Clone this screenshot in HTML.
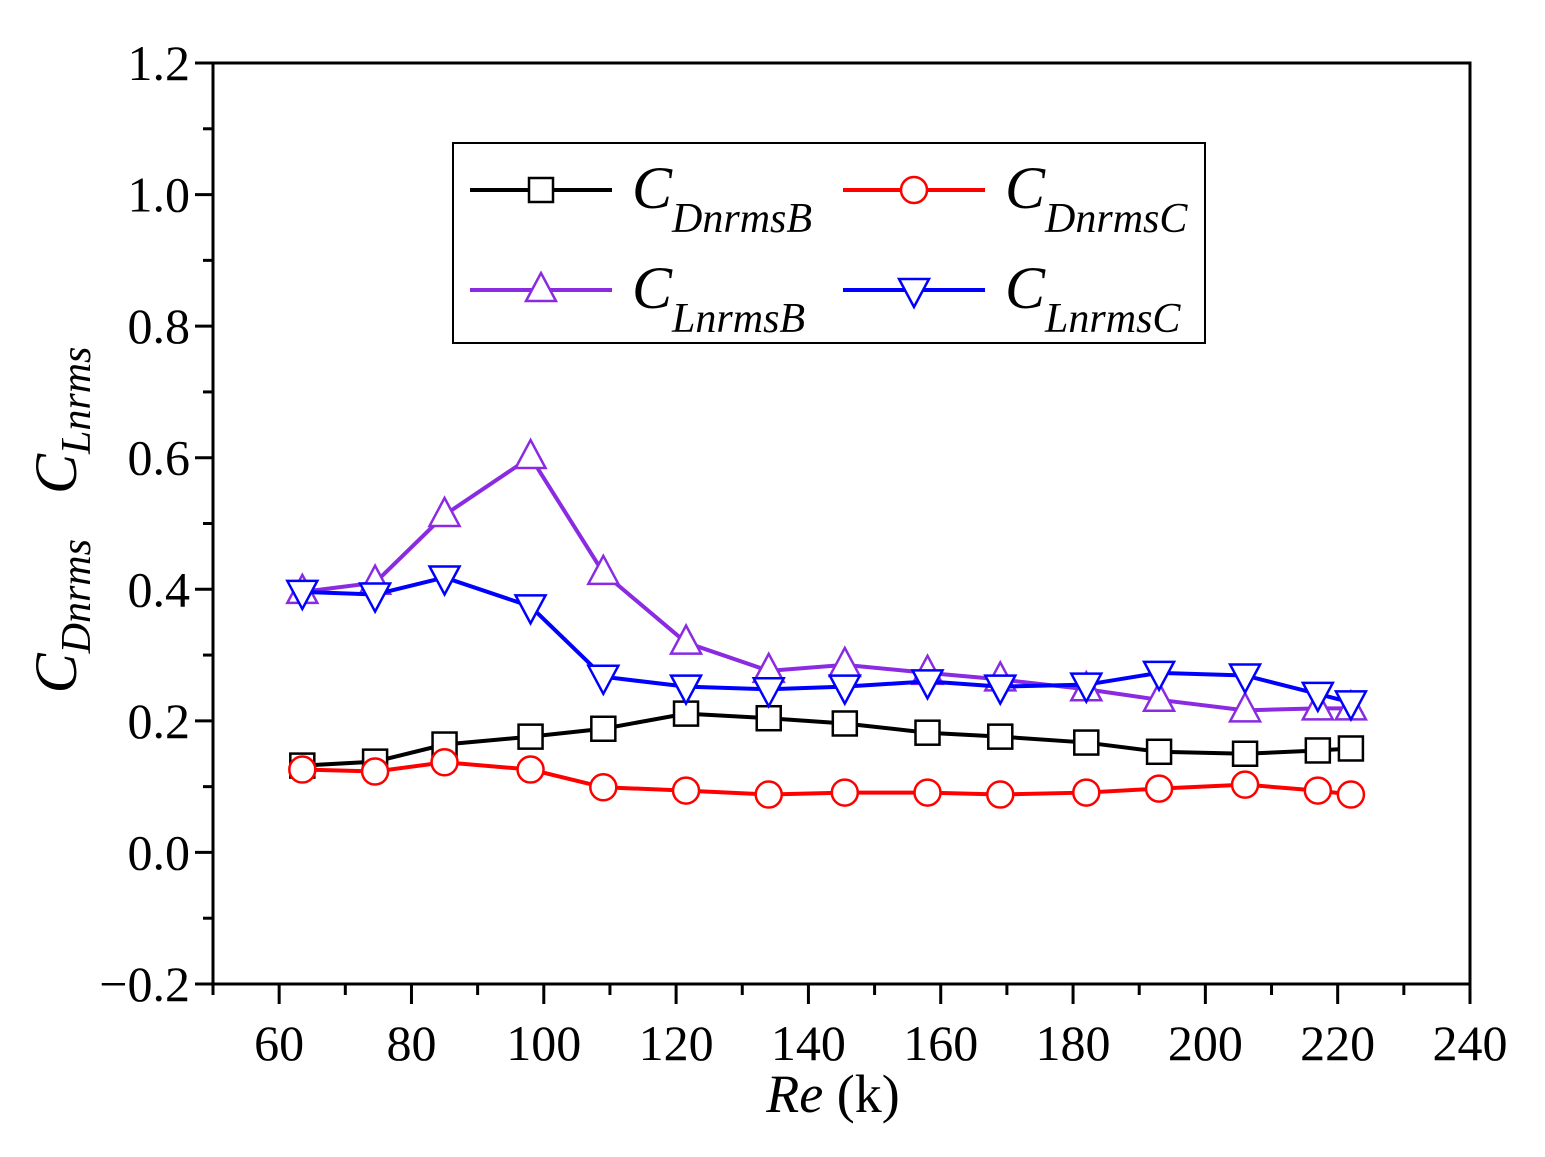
<!DOCTYPE html>
<html><head><meta charset="utf-8"><style>
html,body{margin:0;padding:0;background:#fff}
svg text{font-family:"Liberation Serif","Times New Roman",serif;fill:#000}
</style></head><body>
<svg id="chart" width="1545" height="1152" xmlns="http://www.w3.org/2000/svg" font-family="Liberation Serif, Times New Roman, serif">
<g id="axes"></g>
<g id="series"></g>
<g id="legend"></g>
<text x="833" y="1112" font-size="54" text-anchor="middle" font-family="Liberation Serif, serif"><tspan font-style="italic">Re</tspan> (k)</text>
<g transform="translate(76,520) rotate(-90)">
<text x="0" y="0" font-size="60" text-anchor="middle" font-style="italic" font-family="Liberation Serif, serif">C<tspan font-size="42" dy="14">Dnrms</tspan><tspan dy="-14" font-size="60" xml:space="preserve">   C</tspan><tspan font-size="42" dy="14">Lnrms</tspan></text>
</g>
</svg>
<script>
const reValues=[63.5,74.5,85,98,109,121.5,134,145.5,158,169,182,193,206,217,222];
const cdB=[0.132,0.138,0.164,0.176,0.188,0.211,0.204,0.196,0.182,0.176,0.167,0.153,0.150,0.155,0.158];
const cdC=[0.126,0.123,0.137,0.126,0.099,0.094,0.088,0.091,0.091,0.088,0.091,0.097,0.103,0.094,0.088];
const clB=[0.396,0.41,0.513,0.601,0.425,0.319,0.276,0.285,0.273,0.263,0.248,0.232,0.216,0.219,0.219];
const clC=[0.396,0.392,0.418,0.374,0.267,0.252,0.248,0.252,0.26,0.252,0.255,0.273,0.269,0.241,0.228];
const xTicks=[60,80,100,120,140,160,180,200,220,240];
const yTicks=[-0.2,0,0.2,0.4,0.6,0.8,1.0,1.2];
const yTickLabels=["\u22120.2","0.0","0.2","0.4","0.6","0.8","1.0","1.2"];

const L=213,R=1470,T=63,B=984;
const xMin=50,xMax=240,yMin=-0.2,yMax=1.2;
const sx=v=>L+(v-xMin)/(xMax-xMin)*(R-L);
const sy=v=>B-(v-yMin)/(yMax-yMin)*(B-T);
const NS="http://www.w3.org/2000/svg";
function mk(tag,attrs,parent){const e=document.createElementNS(NS,tag);for(const k in attrs)e.setAttribute(k,attrs[k]);parent.appendChild(e);return e;}
const axes=document.getElementById('axes');
let f=mk('rect',{x:L,y:T,width:R-L,height:B-T,fill:'none',stroke:'#000','stroke-width':3},axes);


for(let v=50;v<=240;v+=10){
  const major=xTicks.includes(v);
  const t=mk('line',{x1:sx(v),x2:sx(v),y1:B,y2:B+(major?20:11),stroke:'#000','stroke-width':3},axes);
  
  
}
xTicks.forEach(v=>{
  const t=mk('text',{x:sx(v),y:1060,'font-size':50,'text-anchor':'middle'},axes);t.textContent=v;
  
  
});
for(let i=0;i<=14;i++){
  const v=yMin+i*0.1;const major=i%2==0;
  const t=mk('line',{x1:L,x2:L-(major?18:10),y1:sy(v),y2:sy(v),stroke:'#000','stroke-width':3},axes);
  
  
}
yTicks.forEach((v,i)=>{
  const t=mk('text',{x:190,y:sy(v)+17,'font-size':50,'text-anchor':'end'},axes);t.textContent=yTickLabels[i];
  
  
});
function marker(g,type,x,y,color){
  let e;
  if(type=='sq')e=mk('rect',{x:x-12,y:y-12,width:24,height:24},g);
  else if(type=='ci')e=mk('circle',{cx:x,cy:y,r:13},g);
  else if(type=='up')e=mk('polygon',{points:`${x},${y-17} ${x-15},${y+11} ${x+15},${y+11}`},g);
  else e=mk('polygon',{points:`${x},${y+17} ${x-15},${y-11} ${x+15},${y-11}`},g);
  e.setAttribute('fill','#fff');e.setAttribute('stroke',color);e.setAttribute('stroke-width',2.5);
  return e;
}
const seriesDefs=[
 {name:'cdnrmsb',data:cdB,color:'#000',m:'sq'},
 {name:'cdnrmsc',data:cdC,color:'#f00',m:'ci'},
 {name:'clnrmsb',data:clB,color:'#8a2be2',m:'up'},
 {name:'clnrmsc',data:clC,color:'#00f',m:'dn'}];
const sg=document.getElementById('series');
seriesDefs.forEach(s=>{
  const g=mk('g',{},sg);
  
  
  const p=mk('polyline',{points:s.data.map((v,i)=>sx(reValues[i])+','+sy(v)).join(' '),fill:'none',stroke:s.color,'stroke-width':4},g);
  
  
  s.data.forEach((v,i)=>{
    const m=marker(g,s.m,sx(reValues[i]),sy(v),s.color);
    
    
  });
});
const lg=document.getElementById('legend');
const lb=mk('rect',{x:453,y:143,width:752,height:200,fill:'#fff',stroke:'#000','stroke-width':2},lg);


const leg=[[0,'D','B',470,190],[1,'D','C',843,190],[2,'L','B',470,290],[3,'L','C',843,290]];
leg.forEach(([i,a,b,x,y])=>{
  const s=seriesDefs[i];
  const g=mk('g',{},lg);
  
  
  mk('line',{x1:x,x2:x+142,y1:y,y2:y,stroke:s.color,'stroke-width':4},g);
  marker(g,s.m,x+71,y,s.color);
  const t=mk('text',{x:x+162,y:y+18,'font-size':60,'font-style':'italic'},g);
  t.innerHTML='C<tspan font-size="42" dy="24">'+a+'nrms'+b+'</tspan>';
});
</script>
</body></html>
